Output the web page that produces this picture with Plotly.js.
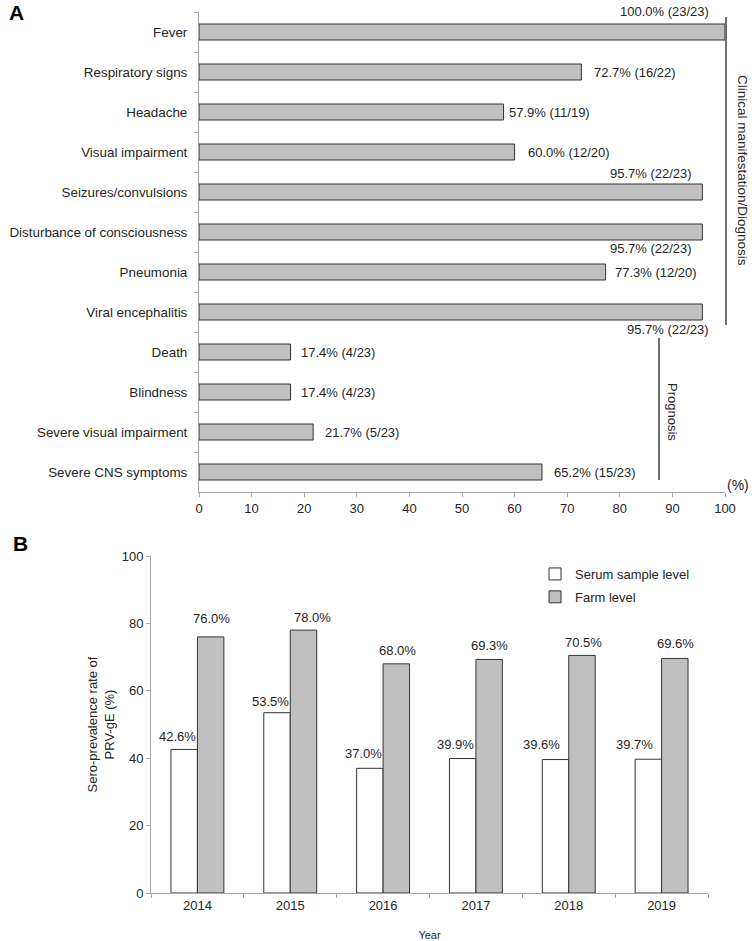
<!DOCTYPE html>
<html>
<head>
<meta charset="utf-8">
<script src="https://cdn.plot.ly/plotly-3.0.1.min.js"></script>
<style>
  html, body { margin: 0; padding: 0; background: #fff; }
  #chart { width: 752px; height: 941px; }
</style>
</head>
<body>
<div id="chart"></div>
<script>
// Panel A - clinical manifestation / prognosis
const symptoms = ['Fever', 'Respiratory signs', 'Headache', 'Visual impairment',
    'Seizures/convulsions', 'Disturbance of consciousness', 'Pneumonia',
    'Viral encephalitis', 'Death', 'Blindness', 'Severe visual impairment',
    'Severe CNS symptoms'];
const symptomPct = [100.0, 72.7, 57.9, 60.0, 95.7, 95.7, 77.3, 95.7, 17.4, 17.4, 21.7, 65.2];
const symptomCounts = ['23/23', '16/22', '11/19', '12/20', '22/23', '22/23', '12/20',
    '22/23', '4/23', '4/23', '5/23', '15/23'];

// Panel B - sero-prevalence by year
const years = ['2014', '2015', '2016', '2017', '2018', '2019'];
const serumLevel = [42.6, 53.5, 37.0, 39.9, 39.6, 39.7];
const farmLevel = [76.0, 78.0, 68.0, 69.3, 70.5, 69.6];

// label placement for panel A: [xanchor, xshift, yshift]
const labelPlace = [
    ['right', -14, 21], ['left', 11, 0], ['left', 3, 0], ['left', 11, 0],
    ['right', -8, 19], ['right', -8, -16], ['left', 7, 0], ['right', 9, -17],
    ['left', 8, 0], ['left', 8, 0], ['left', 10, 0], ['left', 10, 0]
];
// label nudges for panel B: [xshift, yshift] relative to bar top centre
const serumNudge = [[-7, 13], [-7, 11], [-6, 15], [-7, 14], [-14, 15], [-14, 15]];
const farmNudge = [[1, 18], [9, 13], [1, 13], [0, 14], [1, 13], [1, 15]];

const W = 752, H = 941;
const px = x => x / W;
const py = y => 1 - y / H;

const FONT = 'Liberation Sans, Arial, sans-serif';
const TXT = '#262626';
const AXIS = '#a6a6a6';
const GREY = '#c0c0c0';
const EDGE = '#333333';
const HALF_BAR = 13.25;  // half of one bar's width in panel B, px

const traces = [
    {
        type: 'bar',
        orientation: 'h',
        x: symptomPct,
        y: symptoms,
        width: 0.4,
        xaxis: 'x',
        yaxis: 'y',
        marker: { color: GREY, line: { color: EDGE, width: 1 } },
        showlegend: false,
        hoverinfo: 'x+y'
    },
    {
        type: 'bar',
        x: years,
        y: serumLevel,
        name: 'Serum sample level',
        legendgroup: 'serum',
        xaxis: 'x2',
        yaxis: 'y2',
        marker: { color: '#ffffff', line: { color: EDGE, width: 1 } }
    },
    {
        type: 'bar',
        x: years,
        y: farmLevel,
        name: 'Farm level',
        legendgroup: 'farm',
        xaxis: 'x2',
        yaxis: 'y2',
        marker: { color: GREY, line: { color: EDGE, width: 1 } }
    }
];

// Value labels for panel A
const annotations = symptoms.map((s, i) => ({
    x: symptomPct[i],
    y: s,
    xref: 'x',
    yref: 'y',
    text: symptomPct[i].toFixed(1) + '% (' + symptomCounts[i] + ')',
    showarrow: false,
    xanchor: labelPlace[i][0],
    yanchor: 'middle',
    xshift: labelPlace[i][1],
    yshift: labelPlace[i][2],
    font: { family: FONT, size: 13, color: TXT }
}));

// Value labels for panel B (x given as the category's index on the axis)
function barLabel(idx, value, side, nudge) {
    return {
        x: idx, y: value, xref: 'x2', yref: 'y2',
        text: value.toFixed(1) + '%',
        showarrow: false, xanchor: 'center', yanchor: 'middle',
        xshift: side * HALF_BAR + nudge[0],
        yshift: nudge[1],
        font: { family: FONT, size: 13, color: TXT }
    };
}
years.forEach((y, i) => {
    annotations.push(barLabel(i, serumLevel[i], -1, serumNudge[i]));
    annotations.push(barLabel(i, farmLevel[i], 1, farmNudge[i]));
});

function paperText(x, y, text, size, extra) {
    return Object.assign({
        x: px(x), y: py(y), xref: 'paper', yref: 'paper', text: text,
        showarrow: false, xanchor: 'center', yanchor: 'middle',
        font: { family: FONT, size: size, color: TXT }
    }, extra || {});
}

annotations.push(
    paperText(16, 13, '<b>A</b>', 21, { font: { family: FONT, size: 21, color: '#000' } }),
    paperText(20, 543, '<b>B</b>', 21, { font: { family: FONT, size: 21, color: '#000' } }),
    paperText(743, 170, 'Clinical manifestation/Diognosis', 13.5, { textangle: 90 }),
    paperText(673, 412, 'Prognosis', 13, { textangle: 90 }),
    paperText(738, 485, '(%)', 14)
);

const shapes = [
    { type: 'line', xref: 'paper', yref: 'paper', x0: px(726), x1: px(726), y0: py(17), y1: py(325),
      line: { color: '#222', width: 1.3 } },
    { type: 'line', xref: 'paper', yref: 'paper', x0: px(659), x1: px(659), y0: py(338), y1: py(480),
      line: { color: '#222', width: 1.3 } }
];

const layout = {
    width: W,
    height: H,
    margin: { l: 0, r: 0, t: 0, b: 0 },
    paper_bgcolor: '#fff',
    plot_bgcolor: '#fff',
    font: { family: FONT, size: 13, color: TXT },
    barmode: 'group',
    bargap: 0.43,
    bargroupgap: 0,
    xaxis: {
        domain: [px(199), px(725)],
        anchor: 'y',
        range: [0, 100],
        dtick: 10,
        showgrid: false,
        zeroline: false,
        showline: true,
        linecolor: AXIS,
        ticks: 'outside',
        ticklen: 4,
        tickcolor: AXIS,
        tickfont: { size: 13 }
    },
    yaxis: {
        domain: [py(492), py(12)],
        anchor: 'x',
        type: 'category',
        autorange: 'reversed',
        showgrid: false,
        zeroline: false,
        showline: true,
        linecolor: AXIS,
        ticks: 'outside',
        tickson: 'boundaries',
        ticklen: 4,
        tickcolor: AXIS,
        ticklabelstandoff: 8,
        tickfont: { size: 13.4 }
    },
    xaxis2: {
        domain: [px(151), px(708)],
        anchor: 'y2',
        type: 'category',
        range: [-0.5, years.length - 0.5],
        showgrid: false,
        zeroline: false,
        showline: true,
        linecolor: AXIS,
        ticks: 'outside',
        tickson: 'boundaries',
        ticklen: 4,
        tickcolor: AXIS,
        tickfont: { size: 13 },
        title: { text: 'Year', font: { size: 11 }, standoff: 19 }
    },
    yaxis2: {
        domain: [py(893), py(556)],
        anchor: 'x2',
        range: [0, 100],
        dtick: 20,
        showgrid: false,
        zeroline: false,
        showline: true,
        linecolor: AXIS,
        ticks: 'outside',
        ticklen: 4,
        tickcolor: AXIS,
        tickfont: { size: 13 },
        title: { text: 'Sero-prevalence rate of<br>PRV-gE (%)', font: { size: 13 }, standoff: 4 }
    },
    legend: {
        x: px(535),
        y: py(559),
        xanchor: 'left',
        yanchor: 'top',
        font: { family: FONT, size: 13, color: TXT },
        bgcolor: 'rgba(0,0,0,0)',
        tracegroupgap: 3
    },
    annotations: annotations,
    shapes: shapes
};

Plotly.newPlot('chart', traces, layout, { displayModeBar: false, staticPlot: true });
</script>
</body>
</html>
